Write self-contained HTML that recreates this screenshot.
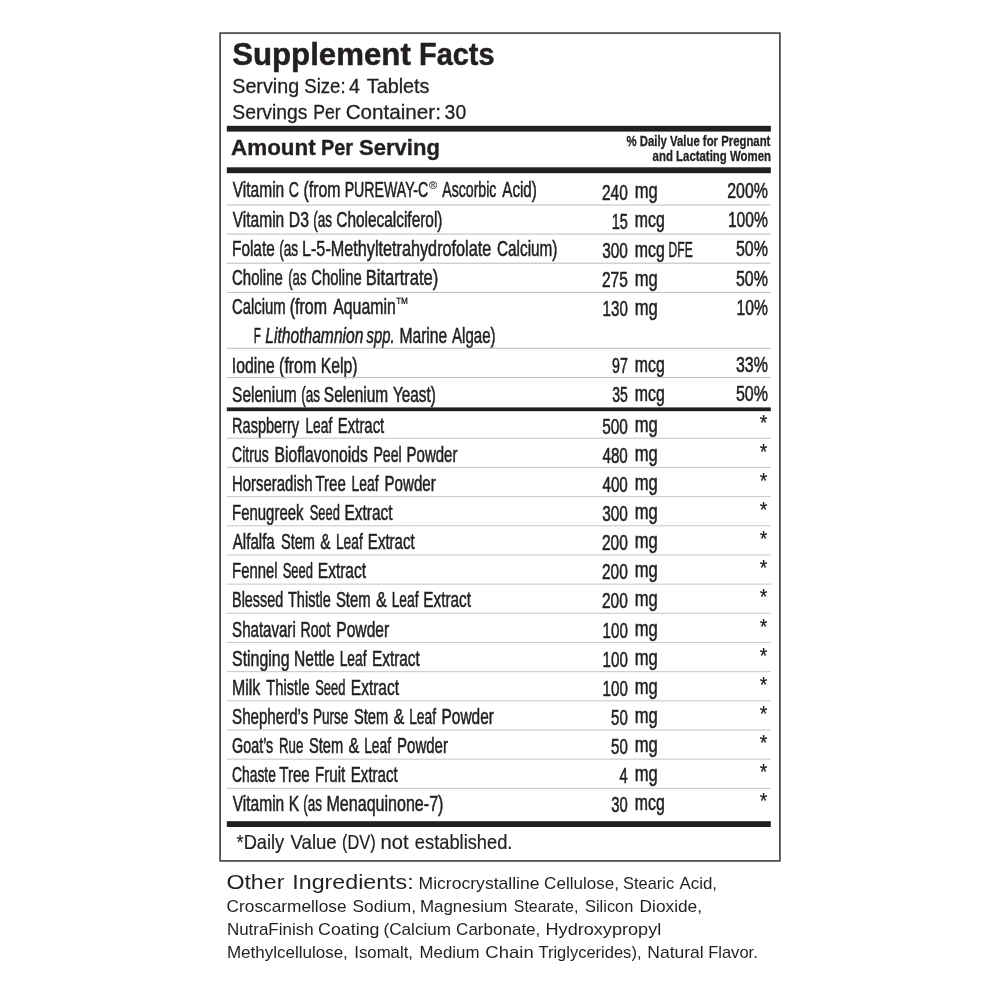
<!DOCTYPE html>
<html lang="en">
<head>
<meta charset="utf-8">
<title>Supplement Facts</title>
<style>
html,body{margin:0;padding:0;background:#fff;}
body{width:1000px;height:1000px;overflow:hidden;}
svg{display:block;}
svg text{font-family:"Liberation Sans",sans-serif;fill:#231f20;white-space:pre;}
</style>
</head>
<body>
<svg width="1000" height="1000" viewBox="0 0 1000 1000">
<rect x="0" y="0" width="1000" height="1000" fill="#ffffff"/>
<rect x="219.2" y="32.2" width="561.6" height="1.8" fill="#505155"/>
<rect x="219.2" y="860.0" width="561.6" height="1.8" fill="#505155"/>
<rect x="219.2" y="34.0" width="1.8" height="826.0" fill="#505155"/>
<rect x="779.0" y="34.0" width="1.8" height="826.0" fill="#505155"/>
<rect x="226.8" y="125.8" width="544.0" height="5.8" fill="#231f20"/>
<rect x="226.8" y="167.3" width="544.0" height="5.9" fill="#231f20"/>
<rect x="226.8" y="407.4" width="544.0" height="3.8" fill="#231f20"/>
<rect x="226.8" y="821.2" width="544.0" height="5.8" fill="#231f20"/>
<text x="232.15" y="65.30" font-size="31.0" textLength="178.68" lengthAdjust="spacingAndGlyphs" font-weight="bold" stroke="#231f20" stroke-width="0.5">Supplement</text>
<text x="419.12" y="65.30" font-size="31.0" textLength="75.42" lengthAdjust="spacingAndGlyphs" font-weight="bold" stroke="#231f20" stroke-width="0.5">Facts</text>
<text x="232.25" y="92.50" font-size="20.2" textLength="66.87" lengthAdjust="spacingAndGlyphs" stroke="#231f20" stroke-width="0.3">Serving</text>
<text x="304.31" y="92.50" font-size="20.2" textLength="41.24" lengthAdjust="spacingAndGlyphs" stroke="#231f20" stroke-width="0.3">Size:</text>
<text x="349.10" y="92.50" font-size="20.2" textLength="10.93" lengthAdjust="spacingAndGlyphs" stroke="#231f20" stroke-width="0.3">4</text>
<text x="366.72" y="92.50" font-size="20.2" textLength="62.82" lengthAdjust="spacingAndGlyphs" stroke="#231f20" stroke-width="0.3">Tablets</text>
<text x="232.27" y="118.50" font-size="20.2" textLength="75.28" lengthAdjust="spacingAndGlyphs" stroke="#231f20" stroke-width="0.3">Servings</text>
<text x="313.20" y="118.50" font-size="20.2" textLength="27.55" lengthAdjust="spacingAndGlyphs" stroke="#231f20" stroke-width="0.3">Per</text>
<text x="345.70" y="118.50" font-size="20.2" textLength="95.23" lengthAdjust="spacingAndGlyphs" stroke="#231f20" stroke-width="0.3">Container:</text>
<text x="444.61" y="118.50" font-size="20.2" textLength="21.60" lengthAdjust="spacingAndGlyphs" stroke="#231f20" stroke-width="0.3">30</text>
<text x="231.12" y="155.20" font-size="22.2" textLength="84.58" lengthAdjust="spacingAndGlyphs" font-weight="bold" stroke="#231f20" stroke-width="0.35">Amount</text>
<text x="320.94" y="155.20" font-size="22.2" textLength="32.19" lengthAdjust="spacingAndGlyphs" font-weight="bold" stroke="#231f20" stroke-width="0.35">Per</text>
<text x="359.04" y="155.20" font-size="22.2" textLength="80.86" lengthAdjust="spacingAndGlyphs" font-weight="bold" stroke="#231f20" stroke-width="0.35">Serving</text>
<text x="626.47" y="146.40" font-size="14.8" textLength="143.92" lengthAdjust="spacingAndGlyphs" font-weight="bold" stroke="#231f20" stroke-width="0.3">% Daily Value for Pregnant</text>
<text x="652.62" y="160.80" font-size="14.8" textLength="118.34" lengthAdjust="spacingAndGlyphs" font-weight="bold" stroke="#231f20" stroke-width="0.3">and Lactating Women</text>
<text x="232.71" y="197.40" font-size="21.7" textLength="51.52" lengthAdjust="spacingAndGlyphs" stroke="#231f20" stroke-width="0.55">Vitamin</text>
<text x="288.86" y="197.40" font-size="21.7" textLength="10.21" lengthAdjust="spacingAndGlyphs" stroke="#231f20" stroke-width="0.55">C</text>
<text x="303.59" y="197.40" font-size="21.7" textLength="36.98" lengthAdjust="spacingAndGlyphs" stroke="#231f20" stroke-width="0.55">(from</text>
<text x="344.65" y="197.40" font-size="21.7" textLength="83.59" lengthAdjust="spacingAndGlyphs" stroke="#231f20" stroke-width="0.55">PUREWAY-C</text>
<text x="442.25" y="197.40" font-size="21.7" textLength="54.15" lengthAdjust="spacingAndGlyphs" stroke="#231f20" stroke-width="0.55">Ascorbic</text>
<text x="502.25" y="197.40" font-size="21.7" textLength="34.62" lengthAdjust="spacingAndGlyphs" stroke="#231f20" stroke-width="0.55">Acid)</text>
<text x="602.00" y="199.50" font-size="21.7" textLength="25.83" lengthAdjust="spacingAndGlyphs" stroke="#231f20" stroke-width="0.55">240</text>
<text x="634.77" y="198.20" font-size="21.7" textLength="23.02" lengthAdjust="spacingAndGlyphs" stroke="#231f20" stroke-width="0.55">mg</text>
<text x="727.28" y="198.00" font-size="21.7" textLength="40.61" lengthAdjust="spacingAndGlyphs" stroke="#231f20" stroke-width="0.55">200%</text>
<rect x="226.8" y="204.45" width="544.0" height="1.1" fill="#c0c1c4"/>
<text x="232.71" y="226.60" font-size="21.7" textLength="51.52" lengthAdjust="spacingAndGlyphs" stroke="#231f20" stroke-width="0.55">Vitamin</text>
<text x="288.78" y="226.60" font-size="21.7" textLength="20.13" lengthAdjust="spacingAndGlyphs" stroke="#231f20" stroke-width="0.55">D3</text>
<text x="313.24" y="226.60" font-size="21.7" textLength="18.78" lengthAdjust="spacingAndGlyphs" stroke="#231f20" stroke-width="0.55">(as</text>
<text x="336.29" y="226.60" font-size="21.7" textLength="106.19" lengthAdjust="spacingAndGlyphs" stroke="#231f20" stroke-width="0.55">Cholecalciferol)</text>
<text x="611.67" y="228.70" font-size="21.7" textLength="16.17" lengthAdjust="spacingAndGlyphs" stroke="#231f20" stroke-width="0.55">15</text>
<text x="634.82" y="227.40" font-size="21.7" textLength="29.92" lengthAdjust="spacingAndGlyphs" stroke="#231f20" stroke-width="0.55">mcg</text>
<text x="727.88" y="227.20" font-size="21.7" textLength="40.00" lengthAdjust="spacingAndGlyphs" stroke="#231f20" stroke-width="0.55">100%</text>
<rect x="226.8" y="233.55" width="544.0" height="1.1" fill="#c0c1c4"/>
<text x="232.01" y="255.80" font-size="21.7" textLength="42.69" lengthAdjust="spacingAndGlyphs" stroke="#231f20" stroke-width="0.55">Folate</text>
<text x="279.23" y="255.80" font-size="21.7" textLength="18.99" lengthAdjust="spacingAndGlyphs" stroke="#231f20" stroke-width="0.55">(as</text>
<text x="301.94" y="255.80" font-size="21.7" textLength="189.30" lengthAdjust="spacingAndGlyphs" stroke="#231f20" stroke-width="0.55">L-5-Methyltetrahydrofolate</text>
<text x="497.00" y="255.80" font-size="21.7" textLength="60.48" lengthAdjust="spacingAndGlyphs" stroke="#231f20" stroke-width="0.55">Calcium)</text>
<text x="602.19" y="257.90" font-size="21.7" textLength="25.64" lengthAdjust="spacingAndGlyphs" stroke="#231f20" stroke-width="0.55">300</text>
<text x="634.82" y="256.60" font-size="21.7" textLength="29.92" lengthAdjust="spacingAndGlyphs" stroke="#231f20" stroke-width="0.55">mcg</text>
<text x="668.58" y="256.60" font-size="21.7" textLength="24.16" lengthAdjust="spacingAndGlyphs" stroke="#231f20" stroke-width="0.55">DFE</text>
<text x="735.94" y="256.40" font-size="21.7" textLength="31.96" lengthAdjust="spacingAndGlyphs" stroke="#231f20" stroke-width="0.55">50%</text>
<rect x="226.8" y="262.65" width="544.0" height="1.1" fill="#c0c1c4"/>
<text x="232.01" y="285.00" font-size="21.7" textLength="50.88" lengthAdjust="spacingAndGlyphs" stroke="#231f20" stroke-width="0.55">Choline</text>
<text x="288.26" y="285.00" font-size="21.7" textLength="18.24" lengthAdjust="spacingAndGlyphs" stroke="#231f20" stroke-width="0.55">(as</text>
<text x="311.32" y="285.00" font-size="21.7" textLength="50.36" lengthAdjust="spacingAndGlyphs" stroke="#231f20" stroke-width="0.55">Choline</text>
<text x="365.72" y="285.00" font-size="21.7" textLength="72.53" lengthAdjust="spacingAndGlyphs" stroke="#231f20" stroke-width="0.55">Bitartrate)</text>
<text x="601.99" y="287.10" font-size="21.7" textLength="25.88" lengthAdjust="spacingAndGlyphs" stroke="#231f20" stroke-width="0.55">275</text>
<text x="634.77" y="285.80" font-size="21.7" textLength="23.02" lengthAdjust="spacingAndGlyphs" stroke="#231f20" stroke-width="0.55">mg</text>
<text x="735.94" y="285.60" font-size="21.7" textLength="31.96" lengthAdjust="spacingAndGlyphs" stroke="#231f20" stroke-width="0.55">50%</text>
<rect x="226.8" y="291.85" width="544.0" height="1.1" fill="#c0c1c4"/>
<text x="232.02" y="314.20" font-size="21.7" textLength="53.68" lengthAdjust="spacingAndGlyphs" stroke="#231f20" stroke-width="0.55">Calcium</text>
<text x="289.78" y="314.20" font-size="21.7" textLength="37.30" lengthAdjust="spacingAndGlyphs" stroke="#231f20" stroke-width="0.55">(from</text>
<text x="333.24" y="314.20" font-size="21.7" textLength="62.51" lengthAdjust="spacingAndGlyphs" stroke="#231f20" stroke-width="0.55">Aquamin</text>
<text x="602.62" y="316.30" font-size="21.7" textLength="25.19" lengthAdjust="spacingAndGlyphs" stroke="#231f20" stroke-width="0.55">130</text>
<text x="634.77" y="315.00" font-size="21.7" textLength="23.02" lengthAdjust="spacingAndGlyphs" stroke="#231f20" stroke-width="0.55">mg</text>
<text x="736.58" y="314.80" font-size="21.7" textLength="31.30" lengthAdjust="spacingAndGlyphs" stroke="#231f20" stroke-width="0.55">10%</text>
<text x="253.63" y="343.00" font-size="21.7" textLength="7.06" lengthAdjust="spacingAndGlyphs" stroke="#231f20" stroke-width="0.55">F</text>
<text x="265.29" y="343.00" font-size="21.7" textLength="98.14" lengthAdjust="spacingAndGlyphs" font-style="italic" stroke="#231f20" stroke-width="0.55">Lithothamnion</text>
<text x="366.54" y="343.00" font-size="21.7" textLength="28.00" lengthAdjust="spacingAndGlyphs" font-style="italic" stroke="#231f20" stroke-width="0.55">spp.</text>
<text x="399.49" y="343.00" font-size="21.7" textLength="47.72" lengthAdjust="spacingAndGlyphs" stroke="#231f20" stroke-width="0.55">Marine</text>
<text x="452.05" y="343.00" font-size="21.7" textLength="43.51" lengthAdjust="spacingAndGlyphs" stroke="#231f20" stroke-width="0.55">Algae)</text>
<rect x="226.8" y="347.75" width="544.0" height="1.1" fill="#c0c1c4"/>
<text x="231.82" y="372.50" font-size="21.7" textLength="42.90" lengthAdjust="spacingAndGlyphs" stroke="#231f20" stroke-width="0.55">Iodine</text>
<text x="279.09" y="372.50" font-size="21.7" textLength="37.19" lengthAdjust="spacingAndGlyphs" stroke="#231f20" stroke-width="0.55">(from</text>
<text x="320.78" y="372.50" font-size="21.7" textLength="36.72" lengthAdjust="spacingAndGlyphs" stroke="#231f20" stroke-width="0.55">Kelp)</text>
<text x="612.11" y="373.10" font-size="21.7" textLength="15.83" lengthAdjust="spacingAndGlyphs" stroke="#231f20" stroke-width="0.55">97</text>
<text x="634.82" y="371.80" font-size="21.7" textLength="29.92" lengthAdjust="spacingAndGlyphs" stroke="#231f20" stroke-width="0.55">mcg</text>
<text x="735.97" y="371.60" font-size="21.7" textLength="31.93" lengthAdjust="spacingAndGlyphs" stroke="#231f20" stroke-width="0.55">33%</text>
<rect x="226.8" y="376.95" width="544.0" height="1.1" fill="#c0c1c4"/>
<text x="232.07" y="401.60" font-size="21.7" textLength="64.68" lengthAdjust="spacingAndGlyphs" stroke="#231f20" stroke-width="0.55">Selenium</text>
<text x="301.24" y="401.60" font-size="21.7" textLength="18.78" lengthAdjust="spacingAndGlyphs" stroke="#231f20" stroke-width="0.55">(as</text>
<text x="323.87" y="401.60" font-size="21.7" textLength="64.37" lengthAdjust="spacingAndGlyphs" stroke="#231f20" stroke-width="0.55">Selenium</text>
<text x="392.95" y="401.60" font-size="21.7" textLength="42.90" lengthAdjust="spacingAndGlyphs" stroke="#231f20" stroke-width="0.55">Yeast)</text>
<text x="612.24" y="402.20" font-size="21.7" textLength="15.57" lengthAdjust="spacingAndGlyphs" stroke="#231f20" stroke-width="0.55">35</text>
<text x="634.82" y="400.90" font-size="21.7" textLength="29.92" lengthAdjust="spacingAndGlyphs" stroke="#231f20" stroke-width="0.55">mcg</text>
<text x="735.94" y="400.70" font-size="21.7" textLength="31.96" lengthAdjust="spacingAndGlyphs" stroke="#231f20" stroke-width="0.55">50%</text>
<text x="428.98" y="188.70" font-size="11.3" textLength="8.14" lengthAdjust="spacingAndGlyphs" stroke="#231f20" stroke-width="0.1">®</text>
<text x="395.28" y="308.90" font-size="16.6" textLength="13.33" lengthAdjust="spacingAndGlyphs" stroke="#231f20" stroke-width="0.2">™</text>
<text x="232.08" y="432.55" font-size="21.7" textLength="66.97" lengthAdjust="spacingAndGlyphs" stroke="#231f20" stroke-width="0.55">Raspberry</text>
<text x="305.45" y="432.55" font-size="21.7" textLength="26.76" lengthAdjust="spacingAndGlyphs" stroke="#231f20" stroke-width="0.55">Leaf</text>
<text x="337.85" y="432.55" font-size="21.7" textLength="46.38" lengthAdjust="spacingAndGlyphs" stroke="#231f20" stroke-width="0.55">Extract</text>
<text x="602.16" y="433.65" font-size="21.7" textLength="25.67" lengthAdjust="spacingAndGlyphs" stroke="#231f20" stroke-width="0.55">500</text>
<text x="634.77" y="431.55" font-size="21.7" textLength="23.02" lengthAdjust="spacingAndGlyphs" stroke="#231f20" stroke-width="0.55">mg</text>
<text x="759.78" y="429.55" font-size="22" textLength="7.62" lengthAdjust="spacingAndGlyphs" stroke="#231f20" stroke-width="0.2">*</text>
<rect x="226.8" y="437.7" width="544.0" height="1.1" fill="#c9cace"/>
<text x="232.06" y="461.69" font-size="21.7" textLength="36.67" lengthAdjust="spacingAndGlyphs" stroke="#231f20" stroke-width="0.55">Citrus</text>
<text x="274.49" y="461.69" font-size="21.7" textLength="93.30" lengthAdjust="spacingAndGlyphs" stroke="#231f20" stroke-width="0.55">Bioflavonoids</text>
<text x="373.42" y="461.69" font-size="21.7" textLength="28.25" lengthAdjust="spacingAndGlyphs" stroke="#231f20" stroke-width="0.55">Peel</text>
<text x="406.54" y="461.69" font-size="21.7" textLength="50.93" lengthAdjust="spacingAndGlyphs" stroke="#231f20" stroke-width="0.55">Powder</text>
<text x="602.43" y="462.79" font-size="21.7" textLength="25.39" lengthAdjust="spacingAndGlyphs" stroke="#231f20" stroke-width="0.55">480</text>
<text x="634.77" y="460.69" font-size="21.7" textLength="23.02" lengthAdjust="spacingAndGlyphs" stroke="#231f20" stroke-width="0.55">mg</text>
<text x="759.78" y="458.69" font-size="22" textLength="7.62" lengthAdjust="spacingAndGlyphs" stroke="#231f20" stroke-width="0.2">*</text>
<rect x="226.8" y="466.88" width="544.0" height="1.1" fill="#c9cace"/>
<text x="232.05" y="490.83" font-size="21.7" textLength="80.44" lengthAdjust="spacingAndGlyphs" stroke="#231f20" stroke-width="0.55">Horseradish</text>
<text x="315.44" y="490.83" font-size="21.7" textLength="30.44" lengthAdjust="spacingAndGlyphs" stroke="#231f20" stroke-width="0.55">Tree</text>
<text x="351.43" y="490.83" font-size="21.7" textLength="27.07" lengthAdjust="spacingAndGlyphs" stroke="#231f20" stroke-width="0.55">Leaf</text>
<text x="384.54" y="490.83" font-size="21.7" textLength="51.24" lengthAdjust="spacingAndGlyphs" stroke="#231f20" stroke-width="0.55">Powder</text>
<text x="602.43" y="491.93" font-size="21.7" textLength="25.39" lengthAdjust="spacingAndGlyphs" stroke="#231f20" stroke-width="0.55">400</text>
<text x="634.77" y="489.83" font-size="21.7" textLength="23.02" lengthAdjust="spacingAndGlyphs" stroke="#231f20" stroke-width="0.55">mg</text>
<text x="759.78" y="487.83" font-size="22" textLength="7.62" lengthAdjust="spacingAndGlyphs" stroke="#231f20" stroke-width="0.2">*</text>
<rect x="226.8" y="496.05" width="544.0" height="1.1" fill="#c9cace"/>
<text x="232.05" y="519.97" font-size="21.7" textLength="71.45" lengthAdjust="spacingAndGlyphs" stroke="#231f20" stroke-width="0.55">Fenugreek</text>
<text x="309.69" y="519.97" font-size="21.7" textLength="30.17" lengthAdjust="spacingAndGlyphs" stroke="#231f20" stroke-width="0.55">Seed</text>
<text x="344.51" y="519.97" font-size="21.7" textLength="48.03" lengthAdjust="spacingAndGlyphs" stroke="#231f20" stroke-width="0.55">Extract</text>
<text x="602.19" y="521.07" font-size="21.7" textLength="25.64" lengthAdjust="spacingAndGlyphs" stroke="#231f20" stroke-width="0.55">300</text>
<text x="634.77" y="518.97" font-size="21.7" textLength="23.02" lengthAdjust="spacingAndGlyphs" stroke="#231f20" stroke-width="0.55">mg</text>
<text x="759.78" y="516.97" font-size="22" textLength="7.62" lengthAdjust="spacingAndGlyphs" stroke="#231f20" stroke-width="0.2">*</text>
<rect x="226.8" y="525.23" width="544.0" height="1.1" fill="#c9cace"/>
<text x="232.75" y="549.11" font-size="21.7" textLength="41.98" lengthAdjust="spacingAndGlyphs" stroke="#231f20" stroke-width="0.55">Alfalfa</text>
<text x="280.91" y="549.11" font-size="21.7" textLength="34.08" lengthAdjust="spacingAndGlyphs" stroke="#231f20" stroke-width="0.55">Stem</text>
<text x="320.24" y="549.11" font-size="21.7" textLength="10.23" lengthAdjust="spacingAndGlyphs" stroke="#231f20" stroke-width="0.55">&amp;</text>
<text x="335.95" y="549.11" font-size="21.7" textLength="26.76" lengthAdjust="spacingAndGlyphs" stroke="#231f20" stroke-width="0.55">Leaf</text>
<text x="367.84" y="549.11" font-size="21.7" textLength="46.90" lengthAdjust="spacingAndGlyphs" stroke="#231f20" stroke-width="0.55">Extract</text>
<text x="602.00" y="550.21" font-size="21.7" textLength="25.83" lengthAdjust="spacingAndGlyphs" stroke="#231f20" stroke-width="0.55">200</text>
<text x="634.77" y="548.11" font-size="21.7" textLength="23.02" lengthAdjust="spacingAndGlyphs" stroke="#231f20" stroke-width="0.55">mg</text>
<text x="759.78" y="546.11" font-size="22" textLength="7.62" lengthAdjust="spacingAndGlyphs" stroke="#231f20" stroke-width="0.2">*</text>
<rect x="226.8" y="554.4" width="544.0" height="1.1" fill="#c9cace"/>
<text x="232.06" y="578.25" font-size="21.7" textLength="45.46" lengthAdjust="spacingAndGlyphs" stroke="#231f20" stroke-width="0.55">Fennel</text>
<text x="282.68" y="578.25" font-size="21.7" textLength="30.38" lengthAdjust="spacingAndGlyphs" stroke="#231f20" stroke-width="0.55">Seed</text>
<text x="317.80" y="578.25" font-size="21.7" textLength="48.24" lengthAdjust="spacingAndGlyphs" stroke="#231f20" stroke-width="0.55">Extract</text>
<text x="602.00" y="579.35" font-size="21.7" textLength="25.83" lengthAdjust="spacingAndGlyphs" stroke="#231f20" stroke-width="0.55">200</text>
<text x="634.77" y="577.25" font-size="21.7" textLength="23.02" lengthAdjust="spacingAndGlyphs" stroke="#231f20" stroke-width="0.55">mg</text>
<text x="759.78" y="575.25" font-size="22" textLength="7.62" lengthAdjust="spacingAndGlyphs" stroke="#231f20" stroke-width="0.2">*</text>
<rect x="226.8" y="583.58" width="544.0" height="1.1" fill="#c9cace"/>
<text x="232.10" y="607.39" font-size="21.7" textLength="51.05" lengthAdjust="spacingAndGlyphs" stroke="#231f20" stroke-width="0.55">Blessed</text>
<text x="287.95" y="607.39" font-size="21.7" textLength="42.92" lengthAdjust="spacingAndGlyphs" stroke="#231f20" stroke-width="0.55">Thistle</text>
<text x="335.90" y="607.39" font-size="21.7" textLength="34.81" lengthAdjust="spacingAndGlyphs" stroke="#231f20" stroke-width="0.55">Stem</text>
<text x="376.01" y="607.39" font-size="21.7" textLength="10.77" lengthAdjust="spacingAndGlyphs" stroke="#231f20" stroke-width="0.55">&amp;</text>
<text x="391.64" y="607.39" font-size="21.7" textLength="26.86" lengthAdjust="spacingAndGlyphs" stroke="#231f20" stroke-width="0.55">Leaf</text>
<text x="423.32" y="607.39" font-size="21.7" textLength="47.72" lengthAdjust="spacingAndGlyphs" stroke="#231f20" stroke-width="0.55">Extract</text>
<text x="602.00" y="608.49" font-size="21.7" textLength="25.83" lengthAdjust="spacingAndGlyphs" stroke="#231f20" stroke-width="0.55">200</text>
<text x="634.77" y="606.39" font-size="21.7" textLength="23.02" lengthAdjust="spacingAndGlyphs" stroke="#231f20" stroke-width="0.55">mg</text>
<text x="759.78" y="604.39" font-size="22" textLength="7.62" lengthAdjust="spacingAndGlyphs" stroke="#231f20" stroke-width="0.2">*</text>
<rect x="226.8" y="612.75" width="544.0" height="1.1" fill="#c9cace"/>
<text x="232.09" y="636.53" font-size="21.7" textLength="63.65" lengthAdjust="spacingAndGlyphs" stroke="#231f20" stroke-width="0.55">Shatavari</text>
<text x="300.41" y="636.53" font-size="21.7" textLength="29.92" lengthAdjust="spacingAndGlyphs" stroke="#231f20" stroke-width="0.55">Root</text>
<text x="336.30" y="636.53" font-size="21.7" textLength="52.89" lengthAdjust="spacingAndGlyphs" stroke="#231f20" stroke-width="0.55">Powder</text>
<text x="602.62" y="637.63" font-size="21.7" textLength="25.19" lengthAdjust="spacingAndGlyphs" stroke="#231f20" stroke-width="0.55">100</text>
<text x="634.77" y="635.53" font-size="21.7" textLength="23.02" lengthAdjust="spacingAndGlyphs" stroke="#231f20" stroke-width="0.55">mg</text>
<text x="759.78" y="633.53" font-size="22" textLength="7.62" lengthAdjust="spacingAndGlyphs" stroke="#231f20" stroke-width="0.2">*</text>
<rect x="226.8" y="641.93" width="544.0" height="1.1" fill="#c9cace"/>
<text x="232.05" y="665.67" font-size="21.7" textLength="57.50" lengthAdjust="spacingAndGlyphs" stroke="#231f20" stroke-width="0.55">Stinging</text>
<text x="294.00" y="665.67" font-size="21.7" textLength="40.72" lengthAdjust="spacingAndGlyphs" stroke="#231f20" stroke-width="0.55">Nettle</text>
<text x="339.64" y="665.67" font-size="21.7" textLength="26.86" lengthAdjust="spacingAndGlyphs" stroke="#231f20" stroke-width="0.55">Leaf</text>
<text x="372.01" y="665.67" font-size="21.7" textLength="47.82" lengthAdjust="spacingAndGlyphs" stroke="#231f20" stroke-width="0.55">Extract</text>
<text x="602.62" y="666.77" font-size="21.7" textLength="25.19" lengthAdjust="spacingAndGlyphs" stroke="#231f20" stroke-width="0.55">100</text>
<text x="634.77" y="664.67" font-size="21.7" textLength="23.02" lengthAdjust="spacingAndGlyphs" stroke="#231f20" stroke-width="0.55">mg</text>
<text x="759.78" y="662.67" font-size="22" textLength="7.62" lengthAdjust="spacingAndGlyphs" stroke="#231f20" stroke-width="0.2">*</text>
<rect x="226.8" y="671.1" width="544.0" height="1.1" fill="#c9cace"/>
<text x="231.97" y="694.81" font-size="21.7" textLength="28.23" lengthAdjust="spacingAndGlyphs" stroke="#231f20" stroke-width="0.55">Milk</text>
<text x="266.24" y="694.81" font-size="21.7" textLength="43.44" lengthAdjust="spacingAndGlyphs" stroke="#231f20" stroke-width="0.55">Thistle</text>
<text x="315.19" y="694.81" font-size="21.7" textLength="30.17" lengthAdjust="spacingAndGlyphs" stroke="#231f20" stroke-width="0.55">Seed</text>
<text x="350.80" y="694.81" font-size="21.7" textLength="48.24" lengthAdjust="spacingAndGlyphs" stroke="#231f20" stroke-width="0.55">Extract</text>
<text x="602.62" y="695.91" font-size="21.7" textLength="25.19" lengthAdjust="spacingAndGlyphs" stroke="#231f20" stroke-width="0.55">100</text>
<text x="634.77" y="693.81" font-size="21.7" textLength="23.02" lengthAdjust="spacingAndGlyphs" stroke="#231f20" stroke-width="0.55">mg</text>
<text x="759.78" y="691.81" font-size="22" textLength="7.62" lengthAdjust="spacingAndGlyphs" stroke="#231f20" stroke-width="0.2">*</text>
<rect x="226.8" y="700.28" width="544.0" height="1.1" fill="#c9cace"/>
<text x="232.09" y="723.95" font-size="21.7" textLength="76.18" lengthAdjust="spacingAndGlyphs" stroke="#231f20" stroke-width="0.55">Shepherd’s</text>
<text x="312.96" y="723.95" font-size="21.7" textLength="35.36" lengthAdjust="spacingAndGlyphs" stroke="#231f20" stroke-width="0.55">Purse</text>
<text x="353.91" y="723.95" font-size="21.7" textLength="34.29" lengthAdjust="spacingAndGlyphs" stroke="#231f20" stroke-width="0.55">Stem</text>
<text x="393.51" y="723.95" font-size="21.7" textLength="10.77" lengthAdjust="spacingAndGlyphs" stroke="#231f20" stroke-width="0.55">&amp;</text>
<text x="409.14" y="723.95" font-size="21.7" textLength="26.86" lengthAdjust="spacingAndGlyphs" stroke="#231f20" stroke-width="0.55">Leaf</text>
<text x="441.51" y="723.95" font-size="21.7" textLength="52.37" lengthAdjust="spacingAndGlyphs" stroke="#231f20" stroke-width="0.55">Powder</text>
<text x="611.07" y="725.05" font-size="21.7" textLength="16.74" lengthAdjust="spacingAndGlyphs" stroke="#231f20" stroke-width="0.55">50</text>
<text x="634.77" y="722.95" font-size="21.7" textLength="23.02" lengthAdjust="spacingAndGlyphs" stroke="#231f20" stroke-width="0.55">mg</text>
<text x="759.78" y="720.95" font-size="22" textLength="7.62" lengthAdjust="spacingAndGlyphs" stroke="#231f20" stroke-width="0.2">*</text>
<rect x="226.8" y="729.45" width="544.0" height="1.1" fill="#c9cace"/>
<text x="232.06" y="753.09" font-size="21.7" textLength="41.18" lengthAdjust="spacingAndGlyphs" stroke="#231f20" stroke-width="0.55">Goat’s</text>
<text x="278.99" y="753.09" font-size="21.7" textLength="24.33" lengthAdjust="spacingAndGlyphs" stroke="#231f20" stroke-width="0.55">Rue</text>
<text x="308.91" y="753.09" font-size="21.7" textLength="34.29" lengthAdjust="spacingAndGlyphs" stroke="#231f20" stroke-width="0.55">Stem</text>
<text x="348.51" y="753.09" font-size="21.7" textLength="10.77" lengthAdjust="spacingAndGlyphs" stroke="#231f20" stroke-width="0.55">&amp;</text>
<text x="364.14" y="753.09" font-size="21.7" textLength="26.86" lengthAdjust="spacingAndGlyphs" stroke="#231f20" stroke-width="0.55">Leaf</text>
<text x="397.04" y="753.09" font-size="21.7" textLength="50.93" lengthAdjust="spacingAndGlyphs" stroke="#231f20" stroke-width="0.55">Powder</text>
<text x="611.07" y="754.19" font-size="21.7" textLength="16.74" lengthAdjust="spacingAndGlyphs" stroke="#231f20" stroke-width="0.55">50</text>
<text x="634.77" y="752.09" font-size="21.7" textLength="23.02" lengthAdjust="spacingAndGlyphs" stroke="#231f20" stroke-width="0.55">mg</text>
<text x="759.78" y="750.09" font-size="22" textLength="7.62" lengthAdjust="spacingAndGlyphs" stroke="#231f20" stroke-width="0.2">*</text>
<rect x="226.8" y="758.62" width="544.0" height="1.1" fill="#c9cace"/>
<text x="232.07" y="782.23" font-size="21.7" textLength="43.77" lengthAdjust="spacingAndGlyphs" stroke="#231f20" stroke-width="0.55">Chaste</text>
<text x="279.24" y="782.23" font-size="21.7" textLength="30.44" lengthAdjust="spacingAndGlyphs" stroke="#231f20" stroke-width="0.55">Tree</text>
<text x="315.03" y="782.23" font-size="21.7" textLength="30.30" lengthAdjust="spacingAndGlyphs" stroke="#231f20" stroke-width="0.55">Fruit</text>
<text x="350.84" y="782.23" font-size="21.7" textLength="46.79" lengthAdjust="spacingAndGlyphs" stroke="#231f20" stroke-width="0.55">Extract</text>
<text x="619.44" y="783.33" font-size="21.7" textLength="8.22" lengthAdjust="spacingAndGlyphs" stroke="#231f20" stroke-width="0.55">4</text>
<text x="634.77" y="781.23" font-size="21.7" textLength="23.02" lengthAdjust="spacingAndGlyphs" stroke="#231f20" stroke-width="0.55">mg</text>
<text x="759.78" y="779.23" font-size="22" textLength="7.62" lengthAdjust="spacingAndGlyphs" stroke="#231f20" stroke-width="0.2">*</text>
<rect x="226.8" y="787.8" width="544.0" height="1.1" fill="#c9cace"/>
<text x="232.71" y="811.37" font-size="21.7" textLength="51.52" lengthAdjust="spacingAndGlyphs" stroke="#231f20" stroke-width="0.55">Vitamin</text>
<text x="288.80" y="811.37" font-size="21.7" textLength="10.40" lengthAdjust="spacingAndGlyphs" stroke="#231f20" stroke-width="0.55">K</text>
<text x="303.24" y="811.37" font-size="21.7" textLength="18.78" lengthAdjust="spacingAndGlyphs" stroke="#231f20" stroke-width="0.55">(as</text>
<text x="326.46" y="811.37" font-size="21.7" textLength="116.96" lengthAdjust="spacingAndGlyphs" stroke="#231f20" stroke-width="0.55">Menaquinone-7)</text>
<text x="611.31" y="812.47" font-size="21.7" textLength="16.49" lengthAdjust="spacingAndGlyphs" stroke="#231f20" stroke-width="0.55">30</text>
<text x="634.82" y="810.37" font-size="21.7" textLength="29.92" lengthAdjust="spacingAndGlyphs" stroke="#231f20" stroke-width="0.55">mcg</text>
<text x="759.78" y="808.37" font-size="22" textLength="7.62" lengthAdjust="spacingAndGlyphs" stroke="#231f20" stroke-width="0.2">*</text>
<text x="236.61" y="848.90" font-size="19.8" textLength="47.63" lengthAdjust="spacingAndGlyphs" stroke="#231f20" stroke-width="0.2">*Daily</text>
<text x="290.52" y="848.90" font-size="19.8" textLength="46.18" lengthAdjust="spacingAndGlyphs" stroke="#231f20" stroke-width="0.2">Value</text>
<text x="342.09" y="848.90" font-size="19.8" textLength="33.63" lengthAdjust="spacingAndGlyphs" stroke="#231f20" stroke-width="0.2">(DV)</text>
<text x="380.56" y="848.90" font-size="19.8" textLength="27.98" lengthAdjust="spacingAndGlyphs" stroke="#231f20" stroke-width="0.2">not</text>
<text x="414.82" y="848.90" font-size="19.8" textLength="97.65" lengthAdjust="spacingAndGlyphs" stroke="#231f20" stroke-width="0.2">established.</text>
<text x="226.40" y="888.60" font-size="21.0" textLength="57.98" lengthAdjust="spacingAndGlyphs" fill="#47474a">Other</text>
<text x="292.36" y="888.60" font-size="21.0" textLength="121.26" lengthAdjust="spacingAndGlyphs" fill="#47474a">Ingredients:</text>
<text x="418.56" y="888.60" font-size="17.0" textLength="121.02" lengthAdjust="spacingAndGlyphs" fill="#47474a">Microcrystalline</text>
<text x="544.13" y="888.60" font-size="17.0" textLength="74.90" lengthAdjust="spacingAndGlyphs" fill="#47474a">Cellulose,</text>
<text x="623.05" y="888.60" font-size="17.0" textLength="51.18" lengthAdjust="spacingAndGlyphs" fill="#47474a">Stearic</text>
<text x="679.47" y="888.60" font-size="17.0" textLength="37.55" lengthAdjust="spacingAndGlyphs" fill="#47474a">Acid,</text>
<text x="226.62" y="912.00" font-size="17.0" textLength="119.94" lengthAdjust="spacingAndGlyphs" fill="#47474a">Croscarmellose</text>
<text x="352.51" y="912.00" font-size="17.0" textLength="63.54" lengthAdjust="spacingAndGlyphs" fill="#47474a">Sodium,</text>
<text x="419.91" y="912.00" font-size="17.0" textLength="87.50" lengthAdjust="spacingAndGlyphs" fill="#47474a">Magnesium</text>
<text x="513.78" y="912.00" font-size="17.0" textLength="64.65" lengthAdjust="spacingAndGlyphs" fill="#47474a">Stearate,</text>
<text x="585.06" y="912.00" font-size="17.0" textLength="48.31" lengthAdjust="spacingAndGlyphs" fill="#47474a">Silicon</text>
<text x="639.58" y="912.00" font-size="17.0" textLength="62.47" lengthAdjust="spacingAndGlyphs" fill="#47474a">Dioxide,</text>
<text x="226.91" y="935.20" font-size="17.0" textLength="86.69" lengthAdjust="spacingAndGlyphs" fill="#47474a">NutraFinish</text>
<text x="318.10" y="935.20" font-size="17.0" textLength="61.35" lengthAdjust="spacingAndGlyphs" fill="#47474a">Coating</text>
<text x="383.44" y="935.20" font-size="17.0" textLength="67.70" lengthAdjust="spacingAndGlyphs" fill="#47474a">(Calcium</text>
<text x="456.14" y="935.20" font-size="17.0" textLength="84.19" lengthAdjust="spacingAndGlyphs" fill="#47474a">Carbonate,</text>
<text x="545.52" y="935.20" font-size="17.0" textLength="115.70" lengthAdjust="spacingAndGlyphs" fill="#47474a">Hydroxypropyl</text>
<text x="226.91" y="958.20" font-size="17.0" textLength="120.92" lengthAdjust="spacingAndGlyphs" fill="#47474a">Methylcellulose,</text>
<text x="354.25" y="958.20" font-size="17.0" textLength="58.76" lengthAdjust="spacingAndGlyphs" fill="#47474a">Isomalt,</text>
<text x="419.62" y="958.20" font-size="17.0" textLength="59.79" lengthAdjust="spacingAndGlyphs" fill="#47474a">Medium</text>
<text x="485.36" y="958.20" font-size="17.0" textLength="48.34" lengthAdjust="spacingAndGlyphs" fill="#47474a">Chain</text>
<text x="538.43" y="958.20" font-size="17.0" textLength="103.04" lengthAdjust="spacingAndGlyphs" fill="#47474a">Triglycerides),</text>
<text x="647.37" y="958.20" font-size="17.0" textLength="56.30" lengthAdjust="spacingAndGlyphs" fill="#47474a">Natural</text>
<text x="708.17" y="958.20" font-size="17.0" textLength="49.61" lengthAdjust="spacingAndGlyphs" fill="#47474a">Flavor.</text>
</svg>
</body>
</html>
